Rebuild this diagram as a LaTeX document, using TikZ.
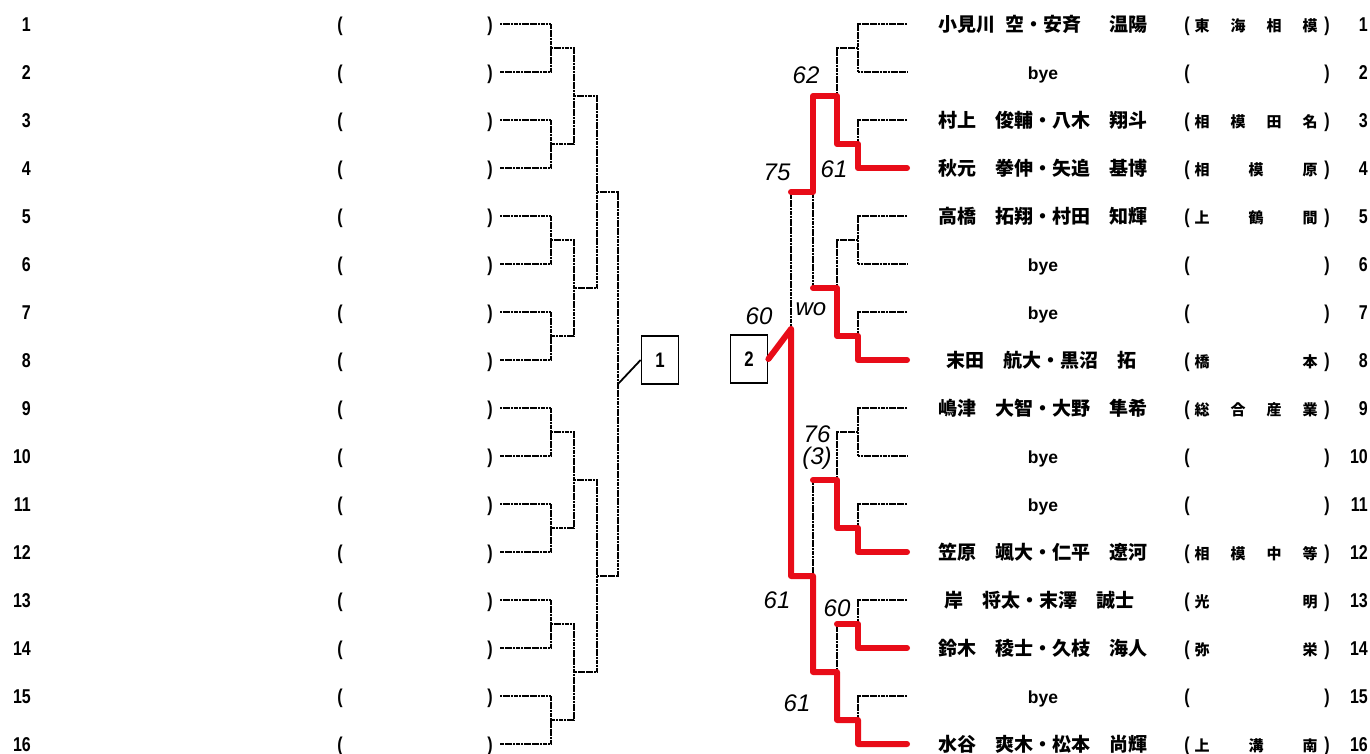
\documentclass[tikz,border=0pt]{standalone}
\usepackage{fontspec}
\setmainfont{Liberation Sans}
\newfontfamily\narrowfont[FakeStretch=0.8]{Liberation Sans}
\newfontfamily\jpfont{Noto Sans CJK JP}
\usetikzlibrary{calc}
\definecolor{penred}{RGB}{232,12,24}

\newcommand{\rowy}[1]{24+48*(#1-1)}
\newcommand{\rowb}[1]{31+48*(#1-1)}
\newcommand{\school}[3]{%
  \foreach \c [count=\j] in {#3}{%
    \pgfmathsetmacro{\sx}{1202+(\j-1)*108/(#2-1)}%
    \node[schtxt, anchor=base] (sc#1-\j) at (\sx,{\rowb{#1}}) {\c};}}

\begin{document}
\begin{tikzpicture}[x=1pt,y=-1pt,
  brk/.style={line width=2pt, dash pattern=on 2.2pt off 0.5pt},
  win/.style={penred, line width=6pt, line cap=round, line join=round},
  numtxt/.style={font=\narrowfont\bfseries\fontsize{20}{20}\selectfont, inner sep=0},
  byetxt/.style={font=\bfseries\fontsize{17.5}{17.5}\selectfont, inner sep=0},
  nametxt/.style={font=\jpfont\bfseries\fontsize{19}{19}\selectfont, inner sep=0},
  schtxt/.style={font=\jpfont\bfseries\fontsize{15}{15}\selectfont, inner sep=0},
  hand/.style={font=\itshape\fontsize{24}{24}\selectfont, inner sep=0},
  boxnode/.style={draw, line width=1.8pt, minimum width=37pt, minimum height=48pt, inner sep=0,
    font=\narrowfont\bfseries\fontsize{21}{21}\selectfont}]
  \useasboundingbox (0,0) rectangle (1370,753);

  %% left block: numbers and empty entries
  \foreach \i in {1,...,16}{
    \node[numtxt, anchor=base east] (lno\i) at (31,{\rowb{\i}}) {\i};
    \node[numtxt, anchor=base] (lop\i) at (340,{\rowb{\i}}) {(};
    \node[numtxt, anchor=base] (lcp\i) at (490,{\rowb{\i}}) {)};
    \coordinate (lj0-\i) at (500,{\rowy{\i}});
  }
  \foreach \l/\xl in {1/551,2/574,3/597,4/618}{
    \pgfmathtruncatemacro{\nk}{16/2^\l}
    \pgfmathtruncatemacro{\pl}{\l-1}
    \foreach \k in {1,...,\nk}{
      \pgfmathtruncatemacro{\ka}{2*\k-1}
      \pgfmathtruncatemacro{\kb}{2*\k}
      \pgfmathsetmacro{\yc}{24+48*((\k-1)*2^\l+(2^\l-1)/2)}
      \coordinate (lj\l-\k) at (\xl,\yc);
      \draw[brk] (lj\pl-\ka) -| (lj\l-\k) |- (lj\pl-\kb);
    }
  }
  \node[boxnode] (box1) at (660,360) {1};
  \draw[line width=1.8pt] (lj4-1) -- (box1.west);

  %% right block
  \foreach \i in {1,...,16}{
    \coordinate (rj0-\i) at (907,{\rowy{\i}});
    \node[numtxt, anchor=base] (rop\i) at (1187,{\rowb{\i}}) {(};
    \node[numtxt, anchor=base] (rcp\i) at (1327,{\rowb{\i}}) {)};
    \node[numtxt, anchor=base east] (rno\i) at (1368,{\rowb{\i}}) {\i};
  }
  \foreach \l/\xl in {1/858,2/837,3/813,4/791}{
    \pgfmathtruncatemacro{\nk}{16/2^\l}
    \pgfmathtruncatemacro{\pl}{\l-1}
    \foreach \k in {1,...,\nk}{
      \pgfmathtruncatemacro{\ka}{2*\k-1}
      \pgfmathtruncatemacro{\kb}{2*\k}
      \pgfmathsetmacro{\yc}{24+48*((\k-1)*2^\l+(2^\l-1)/2)}
      \coordinate (rj\l-\k) at (\xl,\yc);
      \draw[brk] (rj\pl-\ka) -| (rj\l-\k) |- (rj\pl-\kb);
    }
  }
  \node[boxnode] (box2) at (749,359) {2};

  %% players
  \node[nametxt, anchor=base] (nm1) at (1043,{\rowb{1}}) {小見川\hspace{.5em}空・安斉\hspace{1.5em}温陽};
  \node[byetxt, anchor=base] (nm2) at (1043,{\rowb{2}}) {bye};
  \node[nametxt, anchor=base] (nm3) at (1043,{\rowb{3}}) {村上　俊輔・八木　翔斗};
  \node[nametxt, anchor=base] (nm4) at (1043,{\rowb{4}}) {秋元　拳伸・矢追　基博};
  \node[nametxt, anchor=base] (nm5) at (1043,{\rowb{5}}) {高橋　拓翔・村田　知輝};
  \node[byetxt, anchor=base] (nm6) at (1043,{\rowb{6}}) {bye};
  \node[byetxt, anchor=base] (nm7) at (1043,{\rowb{7}}) {bye};
  \node[nametxt, anchor=base] (nm8) at (1041,{\rowb{8}}) {末田　航大・黒沼　拓};
  \node[nametxt, anchor=base] (nm9) at (1043,{\rowb{9}}) {嶋津　大智・大野　隼希};
  \node[byetxt, anchor=base] (nm10) at (1043,{\rowb{10}}) {bye};
  \node[byetxt, anchor=base] (nm11) at (1043,{\rowb{11}}) {bye};
  \node[nametxt, anchor=base] (nm12) at (1043,{\rowb{12}}) {笠原　颯大・仁平　遼河};
  \node[nametxt, anchor=base] (nm13) at (1039,{\rowb{13}}) {岸　将太・末澤　誠士};
  \node[nametxt, anchor=base] (nm14) at (1043,{\rowb{14}}) {鈴木　稜士・久枝　海人};
  \node[byetxt, anchor=base] (nm15) at (1043,{\rowb{15}}) {bye};
  \node[nametxt, anchor=base] (nm16) at (1043,{\rowb{16}}) {水谷　爽木・松本　尚輝};

  %% schools
  \school{1}{4}{東,海,相,模}
  \school{3}{4}{相,模,田,名}
  \school{4}{3}{相,模,原}
  \school{5}{3}{上,鶴,間}
  \school{8}{2}{橋,本}
  \school{9}{4}{総,合,産,業}
  \school{12}{4}{相,模,中,等}
  \school{13}{2}{光,明}
  \school{14}{2}{弥,栄}
  \school{16}{3}{上,溝,南}

  %% results in red pen
  \coordinate (rfin) at (791,329);
  \draw[win] (rj0-4) -| (rj1-2) -| (rj2-1) -| (rj3-1) -- (rj3-1 -| rj4-1);
  \draw[win] (rj0-8) -| (rj1-4) -| (rj2-2) -- (rj2-2 -| rj3-1);
  \draw[win] (rj0-12) -| (rj1-6) -| (rj2-3) -- (rj2-3 -| rj3-2);
  \draw[win] (rj0-14) -| (rj1-7) -- (rj1-7 -| rj2-4);
  \draw[win] (rj0-16) -| (rj1-8) -| (rj2-4) -| (rj3-2) -| (rfin) -- (box2.east);

  %% handwritten scores
  \node[hand] (s62) at (806,75) {62};
  \node[hand] (s75) at (777,172) {75};
  \node[hand] (s61a) at (834,169) {61};
  \node[hand] (swo) at (811,309) {wo};
  \node[hand] (s60a) at (759,316) {60};
  \node[hand] (s76) at (817,434) {76};
  \node[hand] (s3) at (817,458) {(3)};
  \node[hand] (s61b) at (777,600) {61};
  \node[hand] (s60b) at (837,608) {60};
  \node[hand] (s61c) at (797,703) {61};
\end{tikzpicture}
\end{document}
